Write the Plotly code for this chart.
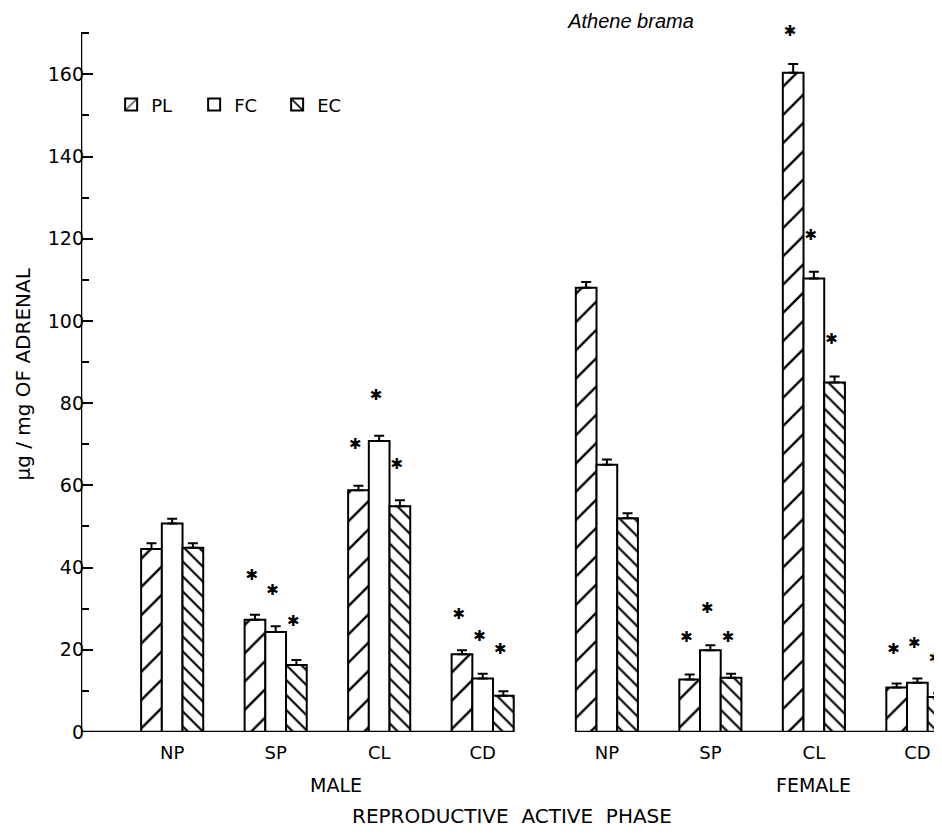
import plotly.graph_objects as go

# ---------------- data ----------------
phases = ["NP", "SP", "CL", "CD"]
sexes = ["MALE", "FEMALE"]
series = ["PL", "FC", "EC"]

PL_male = [44.5, 27.3, 58.8, 18.9]
FC_male = [50.7, 24.3, 70.8, 13.0]
EC_male = [44.8, 16.3, 54.9, 8.8]
PL_female = [108.1, 12.8, 160.4, 10.8]
FC_female = [65.0, 19.9, 110.3, 12.0]
EC_female = [52.0, 13.2, 85.0, 8.5]

PL_male_se = [1.4, 1.2, 1.1, 1.0]
FC_male_se = [1.2, 1.4, 1.3, 1.2]
EC_male_se = [1.1, 1.2, 1.5, 1.1]
PL_female_se = [1.4, 1.2, 2.1, 1.0]
FC_female_se = [1.3, 1.2, 1.7, 1.0]
EC_female_se = [1.2, 1.0, 1.5, 0.9]

# height at which a significance asterisk is printed (None = no asterisk)
PL_male_star = [None, 38.0, 69.8, 28.4]
FC_male_star = [None, 34.3, 81.7, 23.1]
EC_male_star = [None, 26.6, 64.9, 19.9]
PL_female_star = [None, 22.7, 170.2, 19.9]
FC_female_star = [None, 29.8, 120.6, 21.4]
EC_female_star = [None, 22.7, 95.3, 17.7]

y_ticks = [0, 20, 40, 60, 80, 100, 120, 140, 160]
y_axis_top = 170

# ---------------- layout helpers ----------------
SEX_GAP = 0.2          # extra space between the male and female blocks
BAR_W = 0.2
STAR_NUDGE = -0.03     # asterisks sit slightly left of the bar centre
FONT = "DejaVu Sans"
PAGE_MARGIN = 8        # default <body> margin of the generated page

centers = []
for s in range(len(sexes)):
    for p in range(len(phases)):
        centers.append(s * (len(phases) + SEX_GAP) + p)

values = {
    "PL": PL_male + PL_female,
    "FC": FC_male + FC_female,
    "EC": EC_male + EC_female,
}
errors = {
    "PL": PL_male_se + PL_female_se,
    "FC": FC_male_se + FC_female_se,
    "EC": EC_male_se + EC_female_se,
}
stars = {
    "PL": PL_male_star + PL_female_star,
    "FC": FC_male_star + FC_female_star,
    "EC": EC_male_star + EC_female_star,
}
patterns = {
    "PL": dict(shape="/", size=20, solidity=0.12, fgcolor="#000000", fgopacity=1,
               bgcolor="white", fillmode="replace"),
    "FC": dict(shape=""),
    "EC": dict(shape="\\", size=10.6, solidity=0.2, fgcolor="#000000", fgopacity=1,
               bgcolor="white", fillmode="replace"),
}
offsets = {"PL": -BAR_W, "FC": 0.0, "EC": BAR_W}

fig = go.Figure()
for name in series:
    fig.add_trace(go.Bar(
        x=centers, y=values[name], name=name,
        marker=dict(color="white", line=dict(color="black", width=2),
                    pattern=patterns[name]),
        error_y=dict(type="data", array=errors[name], arrayminus=[0] * len(centers),
                     symmetric=False, color="black", thickness=2, width=5),
        showlegend=True,
    ))

for name in series:
    xs, ys = [], []
    for c, v in zip(centers, stars[name]):
        if v is not None:
            xs.append(c + offsets[name] + STAR_NUDGE)
            ys.append(v)
    fig.add_trace(go.Scatter(
        x=xs, y=ys, mode="text", text=["✱"] * len(xs),
        textposition="middle center",
        textfont=dict(family="DejaVu Sans", size=15, color="black"),
        showlegend=False, cliponaxis=False, hoverinfo="skip",
    ))

# broken baseline: one segment under each sex block, and the y-axis line
n = len(phases)
male_end = centers[n - 1] + 1.5 * BAR_W
female_start = centers[n] - 1.5 * BAR_W
x_left = -0.881
x_right = 7.438
line_style = dict(color="black", width=2.5)
fig.add_shape(type="line", xref="x", yref="y", x0=x_left, x1=male_end, y0=0, y1=0,
              line=line_style, layer="above")
fig.add_shape(type="line", xref="x", yref="y", x0=female_start, x1=x_right + 1, y0=0, y1=0,
              line=line_style, layer="above")
fig.add_shape(type="line", xref="x", yref="y", x0=x_left, x1=x_left, y0=0, y1=y_axis_top,
              line=line_style, layer="above")

W, H = 942 - PAGE_MARGIN, 834 - PAGE_MARGIN

fig.update_layout(
    width=W, height=H,
    margin=dict(l=81 - PAGE_MARGIN, r=0, t=25 - PAGE_MARGIN, b=102, pad=0),
    paper_bgcolor="white", plot_bgcolor="white",
    barmode="group", bargap=0.4, bargroupgap=0,
    font=dict(family=FONT, size=18, color="black"),
    title=dict(text="<i>Athene brama</i>", x=(631 - PAGE_MARGIN) / W, xanchor="center",
               y=1 - (21 - PAGE_MARGIN) / H, yanchor="middle",
               font=dict(family="Liberation Sans", size=20)),
    legend=dict(orientation="h", x=0.035, xanchor="left", y=0.887, yanchor="middle",
                font=dict(family=FONT, size=18), bgcolor="rgba(0,0,0,0)",
                entrywidth=38, entrywidthmode="pixels", itemclick=False),
    xaxis=dict(range=[x_left, x_right], tickvals=centers, ticktext=phases * 2,
               ticks="", showline=False, showgrid=False, zeroline=False,
               ticklabelstandoff=8, tickfont=dict(size=18)),
    yaxis=dict(range=[0, 172], tickvals=y_ticks, ticks="inside", ticklen=12,
               tickwidth=2, tickcolor="black", showline=False,
               showgrid=False, zeroline=False, ticklabelstandoff=-4,
               minor=dict(ticks="inside", ticklen=8, tickwidth=2, tickcolor="black",
                          dtick=10, tick0=0, showgrid=False),
               tickfont=dict(size=19)),
    annotations=[
        dict(text="µg / mg OF ADRENAL", textangle=-90, xref="paper", yref="paper",
             x=-0.067, y=0.506, showarrow=False, font=dict(size=20),
             xanchor="center", yanchor="middle"),
        dict(text="MALE", xref="x", yref="paper", x=1.58, y=-0.075,
             showarrow=False, xanchor="center", yanchor="middle", font=dict(size=19)),
        dict(text="FEMALE", xref="x", yref="paper", x=6.2, y=-0.075,
             showarrow=False, xanchor="center", yanchor="middle", font=dict(size=19)),
        dict(text="REPRODUCTIVE  ACTIVE  PHASE", xref="paper", yref="paper",
             x=0.501, y=-0.119, showarrow=False, xanchor="center", yanchor="middle",
             font=dict(size=20)),
    ],
)

fig.write_html("out.html")
